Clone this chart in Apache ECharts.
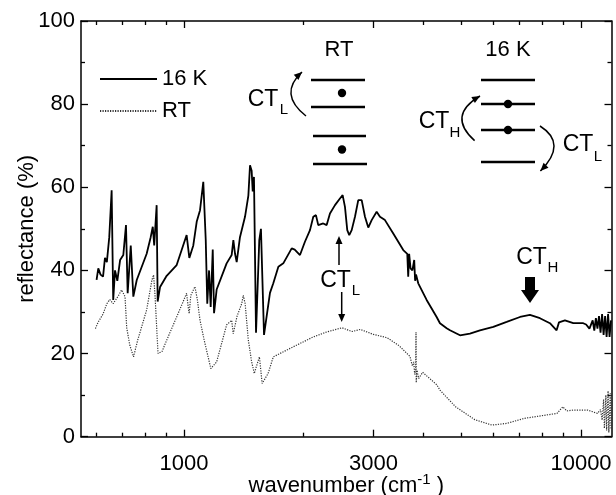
<!DOCTYPE html>
<html>
<head>
<meta charset="utf-8">
<script src="https://cdn.jsdelivr.net/npm/echarts@6/dist/echarts.min.js"></script>
<style>html,body{margin:0;padding:0;background:#fff}#c{width:616px;height:495px}</style>
</head>
<body>
<div id="c"></div>
<script>
// ---- data (wavenumber cm^-1, reflectance %) ----
const spectrum16K = [[602,37.7],[608,40.5],[616,39],[625,38.5],[632,43],[639,42],[648,48],[657,59.3],[663,32.9],[670,40],[679,37.5],[690,42.5],[703,43.7],[714,50.9],[721,34.5],[734,46],[745,33.7],[760,37.7],[805,44],[824,48],[834,50.5],[841,46],[853,55.7],[858,32.5],[870,36],[904,38.7],[958,41.3],[1015,48.5],[1031,43],[1055,46],[1076,51.7],[1097,54.5],[1118,61.3],[1134,47.3],[1144,32],[1156,40],[1167,31.2],[1181,45],[1190,29.7],[1208,35.4],[1280,41.7],[1318,43.7],[1331,47.3],[1344,44],[1357,42],[1383,48],[1424,52.9],[1452,58],[1466,65.3],[1480,64],[1489,59],[1500,62.5],[1518,25],[1547,47.3],[1562,50],[1590,24.5],[1646,34.6],[1678,36.9],[1728,40.9],[1778,41.7],[1867,45.3],[1900,45],[1959,43.7],[2016,46.9],[2076,49.7],[2116,52.9],[2149,53.3],[2178,50.9],[2242,51.3],[2287,50.9],[2331,53.7],[2400,55.7],[2470,57.3],[2509,58.1],[2543,55.3],[2577,49.7],[2607,48.5],[2644,49.7],[2695,52.9],[2747,56.9],[2802,56.9],[2856,52.9],[2911,50.3],[2969,52.1],[3056,54.1],[3115,52.9],[3207,52.1],[3365,48.9],[3566,44.9],[3650,44],[3670,38.5],[3690,44],[3720,40.5],[3760,40],[3800,42.5],[3820,37.5],[3840,39],[3890,36.9],[4084,32.9],[4328,28.8],[4412,27.3],[4587,26.1],[4676,25.6],[4956,24.4],[5250,24.8],[5564,25.6],[6012,26.4],[6497,27.6],[7019,28.8],[7436,29.3],[7880,28.5],[8350,27.3],[8679,25.6],[8800,27.5],[9108,28],[9562,27.3],[10131,27.3],[10300,27],[10500,26],[10700,28],[10800,25.5],[10900,28.5],[11000,26],[11100,29],[11200,25],[11300,29.5],[11400,24.5],[11500,29],[11600,24],[11700,29.5],[11800,24],[11900,28]];

const spectrumRT = [[598,26],[607,27.5],[625,29.5],[639,32],[650,33],[663,32],[684,34],[696,35.3],[710,33.7],[717,26.2],[730,22],[746,19.2],[764,23.2],[805,30.5],[830,37.7],[838,38.9],[845,34],[853,26.4],[860,20],[880,20.5],[904,23.2],[958,28.8],[1015,34.5],[1025,31],[1030,29.6],[1040,34],[1065,36.1],[1080,33],[1097,28],[1124,23.2],[1168,16.4],[1208,18],[1280,26.9],[1318,28],[1330,24.8],[1360,29],[1397,32],[1410,34],[1425,32],[1452,23.2],[1480,18],[1503,15.2],[1520,16.8],[1548,19.2],[1573,12.8],[1628,15.2],[1678,19.2],[1882,21.6],[2116,24],[2287,25.2],[2500,26.2],[2650,25.3],[2780,25.8],[3000,24.6],[3250,23.8],[3480,21.9],[3707,19.3],[3760,17],[3790,18],[3810,15],[3830,16.5],[3840,25.2],[3845,13],[3860,16],[3900,14],[3990,15.5],[4330,12.5],[4412,11.2],[4830,7.2],[5400,4.1],[5960,2.8],[6500,3.2],[7190,4.4],[8160,5.2],[8700,5.6],[9000,7.2],[9200,6.2],[9562,6.4],[10400,6.4],[11000,5.6],[11200,6.5],[11300,4],[11400,9],[11450,2],[11550,10],[11600,1.5],[11700,11],[11750,1],[11850,10.5],[11900,2]];

const seriesNames = ['16 K', 'RT'];
const xMajorTicks = [1000, 3000, 10000];
const xMinorTicks = [600, 700, 800, 900, 2000, 4000, 5000, 6000, 7000, 8000, 9000];
const xRange = [550, 11934];
const yRange = [0, 100];
const yStep = 20;

// ---- chart ----
const FONT = '"Liberation Sans", Arial, sans-serif';
const FS = 22;
const chart = echarts.init(document.getElementById('c'), null, {renderer: 'canvas'});

function xAx(pos, ticks, len, showLine, labels) {
  return {
    type: 'log', logBase: 10, min: xRange[0], max: xRange[1], position: pos,
    axisLine: {show: showLine, lineStyle: {color: '#000', width: 1.5}},
    axisTick: {show: true, inside: true, length: len, customValues: ticks, lineStyle: {color: '#000', width: 1.3}},
    axisLabel: labels ? {show: true, customValues: ticks, formatter: v => String(Math.round(v)), fontSize: FS, fontFamily: FONT, color: '#000', margin: 16} : {show: false},
    splitLine: {show: false}, minorTick: {show: false}, minorSplitLine: {show: false}
  };
}
function yAx(pos, labels) {
  return {
    type: 'value', min: yRange[0], max: yRange[1], interval: yStep, position: pos,
    axisLine: {show: true, lineStyle: {color: '#000', width: 1.5}},
    axisTick: {show: true, inside: true, length: 7, lineStyle: {color: '#000', width: 1.3}},
    minorTick: {show: true, splitNumber: 2, length: 4, lineStyle: {color: '#000', width: 1.3}},
    axisLabel: labels ? {show: true, fontSize: FS, fontFamily: FONT, color: '#000', margin: 6} : {show: false},
    splitLine: {show: false}, minorSplitLine: {show: false}
  };
}

const xMain = xAx('bottom', xMajorTicks, 7, true, true);
xMain.name = '{a|wavenumber (cm}{s|-1}{a| )}';
xMain.nameLocation = 'middle';
xMain.nameGap = 36;
xMain.nameMoveOverlap = false;
xMain.nameTextStyle = {fontSize: FS, fontFamily: FONT, color: '#000',
  rich: {a: {fontSize: FS, fontFamily: FONT, color: '#000'}, s: {fontSize: 15, fontFamily: FONT, color: '#000', padding: [0, 0, 12, 0]}}};

const yMain = yAx('left', true);
yMain.name = 'reflectance (%)';
yMain.nameLocation = 'middle';
yMain.nameGap = 43;
yMain.nameMoveOverlap = false;
yMain.nameTextStyle = {fontSize: FS, fontFamily: FONT, color: '#000'};

// ---- annotation helpers ----
const T = (text, x, y, size) => ({type: 'text', silent: true, style: {text, x, y, fill: '#000', font: (size || 23) + 'px ' + FONT, align: 'center', verticalAlign: 'middle', textAlign: 'center', textVerticalAlign: 'middle'}});
const L = (x1, y1, x2, y2, w) => ({type: 'line', silent: true, shape: {x1, y1, x2, y2}, style: {stroke: '#000', lineWidth: w || 2.5}});
const D = (cx, cy) => ({type: 'circle', silent: true, shape: {cx, cy, r: 4.2}, style: {fill: '#000'}});
function head(tx, ty, dx, dy, len, hw) {
  const m = Math.hypot(dx, dy), ux = dx / m, uy = dy / m, nx = -uy, ny = ux;
  len = len || 8; hw = hw || 3.5;
  return {type: 'polygon', silent: true, shape: {points: [[tx, ty], [tx - len * ux + hw * nx, ty - len * uy + hw * ny], [tx - len * ux - hw * nx, ty - len * uy - hw * ny]]}, style: {fill: '#000'}};
}
function arc(x1, y1, cx, cy, x2, y2) {
  return [{type: 'bezierCurve', silent: true, shape: {x1, y1, x2, y2, cpx1: cx, cpy1: cy}, style: {stroke: '#000', lineWidth: 1.5, fill: null}},
          head(x2, y2, x2 - cx, y2 - cy, 8, 3.5)];
}

const graphics = [
  T('RT', 339, 50, FS), T('16 K', 508, 50, FS),
  // RT schematic
  L(311, 80, 365, 80), L(311, 107, 365, 107), L(313, 136, 366, 136), L(313, 164, 367, 164),
  D(342, 93), D(342, 149.5),
  T('CT', 263, 100), T('L', 284, 110, 15),
  ...arc(306, 116, 278, 94, 302, 72),
  // 16 K schematic
  L(481, 80, 535, 80), L(481, 104, 535, 104), L(481, 130, 535, 130), L(481, 162, 535, 162),
  D(508, 104), D(508, 130),
  T('CT', 434, 122), T('H', 455, 133, 15),
  ...arc(474.6, 140.6, 446.7, 115.7, 480, 96),
  T('CT', 578, 145), T('L', 598, 157, 15),
  ...arc(540, 126, 567.8, 143.5, 540.4, 171),
  // CT_L between curves
  T('CT', 335.5, 281), T('L', 356, 291, 15),
  L(339, 265, 339, 242, 1.5), head(339, 236, 0, -1, 8, 3.5),
  L(341.7, 292, 341.7, 316, 1.5), head(341.7, 322, 0, 1, 8, 3.5),
  // CT_H thick arrow
  T('CT', 531.5, 257.5), T('H', 553, 268, 15),
  {type: 'rect', silent: true, shape: {x: 525, y: 277, width: 10, height: 14}, style: {fill: '#000'}},
  {type: 'polygon', silent: true, shape: {points: [[521, 290], [539, 290], [530, 303]]}, style: {fill: '#000'}}
];

chart.setOption({
  animation: false,
  backgroundColor: '#fff',
  grid: {left: 81, right: 4.5, top: 21, bottom: 58.3, containLabel: false, outerBoundsMode: 'none'},
  xAxis: [xMain, xAx('bottom', xMinorTicks, 4, false, false), xAx('top', xMajorTicks, 7, true, false), xAx('top', xMinorTicks, 4, false, false)],
  yAxis: [yMain, yAx('right', false)],
  legend: {
    data: seriesNames, orient: 'vertical', left: 94, top: 63, itemWidth: 57, itemHeight: 20, itemGap: 10,
    itemStyle: {opacity: 0},
    textStyle: {fontSize: FS, fontFamily: FONT, color: '#000', lineHeight: 22}
  },
  series: [
    {name: seriesNames[0], type: 'line', xAxisIndex: 0, yAxisIndex: 0, data: spectrum16K, symbol: 'none', showSymbol: false,
     lineStyle: {color: '#000', width: 1.8}, itemStyle: {color: '#000'}, z: 3},
    {name: seriesNames[1], type: 'line', xAxisIndex: 0, yAxisIndex: 0, data: spectrumRT, symbol: 'none', showSymbol: false,
     lineStyle: {color: '#333', width: 1.2, type: [1.2, 1.3]}, itemStyle: {color: '#333'}, z: 2}
  ],
  graphic: graphics
});
</script>
</body>
</html>
